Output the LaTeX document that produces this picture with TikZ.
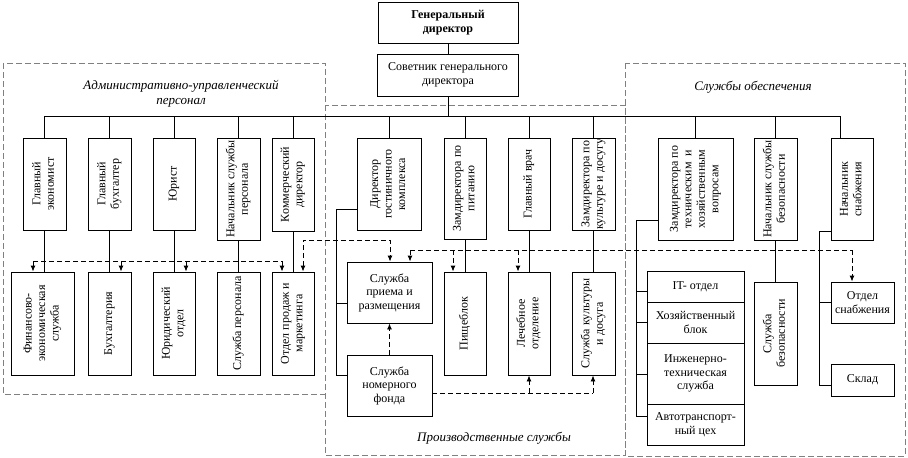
\documentclass[tikz,border=0pt]{standalone}
\usepackage{fontspec}
\setmainfont{Liberation Serif}
\usepackage{graphicx}
\usetikzlibrary{arrows.meta}
\newcommand{\rotlbl}[1]{\rotatebox{90}{\begin{tabular}{@{}c@{}}#1\end{tabular}}}
\begin{document}
\begin{tikzpicture}[x=1pt,y=-1pt,
  bx/.style={draw, line width=0.9pt, inner sep=0pt, align=center, font=\fontsize{12}{13.5}\selectfont},
  sz/.style 2 args={minimum width=#1pt, minimum height=#2pt},
  ln/.style={line width=0.9pt},
  dl/.style={line width=0.9pt, dash pattern=on 5pt off 3pt},
  ar/.style={-{Latex[length=6pt,width=5pt]}},
  arb/.style={{Latex[length=6pt,width=5pt]}-{Latex[length=6pt,width=5pt]}},
  grp/.style={draw=gray, line width=0.6pt, dash pattern=on 6pt off 3pt},
  lbl/.style={font=\fontsize{13}{14.5}\selectfont\itshape, align=center}
]
\useasboundingbox (0,0) rectangle (908,458);

% group frames
\draw[grp] (3,63) rectangle (325,394);
\draw[grp] (325,105) rectangle (625,455);
\draw[grp] (625,63) rectangle (905,456);

\node[lbl] (lA) at (181,94) {Административно-управленческий\\персонал};
\node[lbl] (lS) at (753,87) {Службы обеспечения};
\node[lbl] (lP) at (494,438) {Производственные службы};

% top
\node[bx,sz={140}{41},font=\fontsize{12}{14}\selectfont\bfseries] (gd) at (448,22.5) {Генеральный\\директор};
\node[bx,sz={141}{42}] (sov) at (448,75) {Советник генерального\\директора};

% admin
\node[bx,sz={43}{92}] (ge) at (44.5,184) {\rotlbl{Главный\\экономист}};
\node[bx,sz={43}{92}] (gb) at (109.5,184) {\rotlbl{Главный\\бухгалтер}};
\node[bx,sz={42}{92}] (yur) at (174,184) {\rotlbl{Юрист}};
\node[bx,sz={43}{102}] (nsp) at (238.5,189) {\rotlbl{Начальник службы\\персонала}};
\node[bx,sz={42}{93}] (kd) at (293,184.5) {\rotlbl{Коммерческий\\директор}};

\node[bx,sz={63}{103}] (fes) at (42.5,323.5) {\rotlbl{Финансово-\\экономическая\\служба}};
\node[bx,sz={43}{103}] (buh) at (109.5,323.5) {\rotlbl{Бухгалтерия}};
\node[bx,sz={42}{103}] (yo) at (174,323.5) {\rotlbl{Юридический\\отдел}};
\node[bx,sz={43}{103}] (sp) at (238.5,323.5) {\rotlbl{Служба персонала}};
\node[bx,sz={42}{103}] (opm) at (293,323.5) {\rotlbl{Отдел продаж и\\маркетинга}};

% production
\node[bx,sz={64}{92}] (dgk) at (389,184) {\rotlbl{Директор\\гостиничного\\комплекса}};
\node[bx,sz={42}{101}] (zpp) at (465,188.5) {\rotlbl{Замдиректора по\\питанию}};
\node[bx,sz={42}{92}] (gv) at (529,184) {\rotlbl{Главный врач}};
\node[bx,sz={43}{92}] (zkd) at (593.5,184) {\rotlbl{Замдиректора по\\культуре и досугу}};

\node[bx,sz={85}{61}] (spr) at (389.5,292.5) {Служба\\приема и\\размещения};
\node[bx,sz={85}{61}] (snf) at (389.5,385.5) {Служба\\номерного\\фонда};
\node[bx,sz={42}{103}] (pb) at (465,323.5) {\rotlbl{Пищеблок}};
\node[bx,sz={42}{103}] (lo) at (529,323.5) {\rotlbl{Лечебное\\отделение}};
\node[bx,sz={43}{103}] (skd) at (593.5,323.5) {\rotlbl{Служба культуры\\и досуга}};

% support
\node[bx,sz={75}{102}] (ztx) at (695.5,189) {\rotlbl{Замдиректора по\\техническим \ и\\хозяйственным\\вопросам}};
\node[bx,sz={43}{102}] (nsb) at (775.5,189) {\rotlbl{Начальник службы\\безопасности}};
\node[bx,sz={42}{102}] (nsn) at (852,189) {\rotlbl{Начальник\\снабжения}};

\node[bx,sz={97}{31}] (it) at (695.5,286.5) {IT- отдел};
\node[bx,sz={97}{41}] (hb) at (695.5,322.5) {Хозяйственный\\блок};
\node[bx,sz={97}{61}] (its) at (695.5,373.5) {Инженерно-\\техническая\\служба};
\node[bx,sz={97}{41}] (atc) at (695.5,424.5) {Автотранспорт-\\ный цех};
\node[bx,sz={43}{103}] (sb) at (775.5,333.5) {\rotlbl{Служба\\безопасности}};
\node[bx,sz={63}{41}] (os) at (862.5,302.5) {Отдел\\снабжения};
\node[bx,sz={63}{32}] (skl) at (862.5,380) {Склад};

% solid tree
\coordinate (busL) at (45,116);
\coordinate (busR) at (840,116);
\draw[ln] (gd.south) -- (gd.south |- sov.north);
\draw[ln] (sov.south) -- (sov.south |- busL);
\draw[ln] (busL) -- (busR);
\foreach \n in {ge,gb,yur,nsp,kd,dgk,zpp,gv,zkd,ztx,nsb}
  \draw[ln] (\n.north |- busL) -- (\n.north);
\draw[ln] (busR) -- (busR |- nsn.north);

\draw[ln] (ge.south) -- (ge.south |- fes.north);
\draw[ln] (gb.south) -- (buh.north);
\draw[ln] (yur.south) -- (yo.north);
\draw[ln] (nsp.south) -- (sp.north);
\draw[ln] (kd.south) -- (opm.north);
\draw[ln] (zpp.south) -- (pb.north);
\draw[ln] (gv.south) -- (lo.north);
\draw[ln] (zkd.south) -- (skd.north);
\draw[ln] (nsb.south) -- (sb.north);

% brackets
\coordinate (b1t) at (336,209);
\coordinate (b1m) at (336,303);
\coordinate (b1b) at (336,375);
\draw[ln] (b1t -| dgk.west) -- (b1t) -- (b1b) -- (b1b -| snf.west);
\draw[ln] (b1m) -- (b1m -| spr.west);

\coordinate (b2t) at (636,220);
\coordinate (b2a) at (636,291);
\coordinate (b2b) at (636,322);
\coordinate (b2c) at (636,374);
\coordinate (b2d) at (636,416);
\draw[ln] (b2t -| ztx.west) -- (b2t) -- (b2d) -- (b2d -| atc.west);
\draw[ln] (b2a) -- (b2a -| it.west);
\draw[ln] (b2b) -- (b2b -| hb.west);
\draw[ln] (b2c) -- (b2c -| its.west);

\coordinate (b3t) at (819,231);
\coordinate (b3a) at (819,302);
\coordinate (b3b) at (819,385);
\draw[ln] (b3t -| nsn.west) -- (b3t) -- (b3b) -- (b3b -| skl.west);
\draw[ln] (b3a) -- (b3a -| os.west);

% dashed links
\coordinate (d1a) at (33,261);
\coordinate (d1b) at (121,261);
\coordinate (d1c) at (186,261);
\coordinate (d1d) at (282,261);
\draw[dl] (d1a) -- (d1d);
\draw[dl,ar] (d1a) -- (d1a |- fes.north);
\draw[dl,ar] (d1b) -- (d1b |- buh.north);
\draw[dl,ar] (d1c) -- (d1c |- yo.north);
\draw[dl,ar] (d1d) -- (d1d |- opm.north);

\coordinate (d2a) at (303,240);
\coordinate (d2b) at (390,240);
\draw[dl,arb] (d2a |- opm.north) -- (d2a) -- (d2b) -- (d2b |- spr.north);

\coordinate (d3a) at (410,250);
\coordinate (d3b) at (453,250);
\coordinate (d3c) at (518,250);
\coordinate (d3d) at (852,250);
\draw[dl] (d3a) -- (d3d);
\draw[dl,ar] (d3a) -- (d3a |- spr.north);
\draw[dl,ar] (d3b) -- (d3b |- pb.north);
\draw[dl,ar] (d3c) -- (d3c |- lo.north);
\draw[dl,ar] (d3d) -- (d3d |- os.north);

\draw[dl,ar] (snf.north) -- (spr.south);

\coordinate (d5a) at (529,393);
\coordinate (d5b) at (593,393);
\draw[dl] (snf.east |- d5a) -- (d5b);
\draw[dl,ar] (d5a) -- (d5a |- lo.south);
\draw[dl,ar] (d5b) -- (d5b |- skd.south);
\end{tikzpicture}
\end{document}
